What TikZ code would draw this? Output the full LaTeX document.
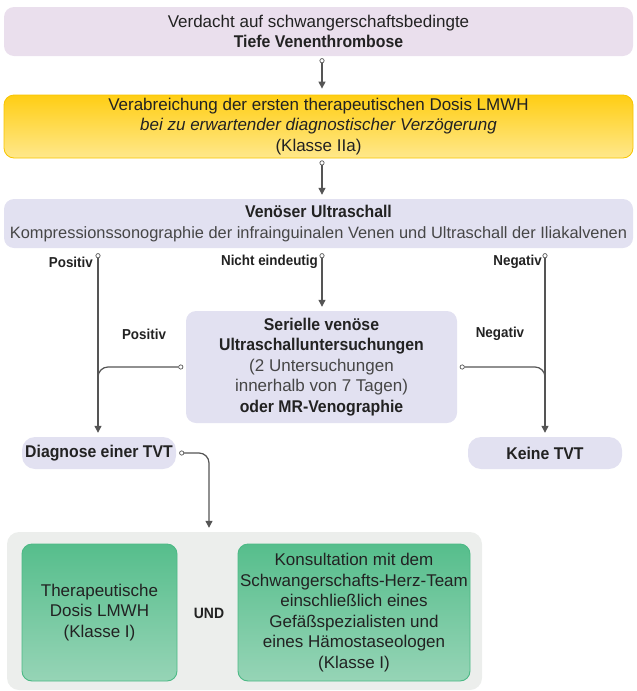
\documentclass[tikz,border=0pt]{standalone}
\usepackage{fontspec}
\setmainfont{Liberation Sans}[BoldFeatures={FakeStretch=0.93}]
\usetikzlibrary{arrows.meta,calc}

\definecolor{pinkbox}{RGB}{234,223,237}
\definecolor{lavbox}{RGB}{226,225,241}
\definecolor{yelTop}{RGB}{255,206,20}
\definecolor{yelBot}{RGB}{255,232,140}
\definecolor{yelLine}{RGB}{247,196,0}
\definecolor{greyPanel}{RGB}{236,238,236}
\definecolor{grnTop}{RGB}{86,190,140}
\definecolor{grnBot}{RGB}{150,212,182}
\definecolor{grnLine}{RGB}{76,185,133}
\definecolor{linkgray}{RGB}{85,85,85}
\definecolor{ink}{RGB}{34,34,34}
\definecolor{softink}{RGB}{70,70,70}

\tikzset{
  txt/.style={font=\fontsize{17}{20.5}\selectfont, text=ink, align=center, inner sep=0pt},
  card/.style={txt, rectangle, rounded corners=10pt},
  pinkcard/.style={card, fill=pinkbox},
  lavcard/.style={card, fill=lavbox},
  pill/.style={card, fill=lavbox, rounded corners=13pt},
  yelcard/.style={card, top color=yelTop, bottom color=yelBot, draw=yelLine, line width=0.8pt},
  grncard/.style={card, top color=grnTop, bottom color=grnBot, draw=grnLine, line width=0.9pt},
  panel/.style={rectangle, rounded corners=12pt, fill=greyPanel, inner sep=0pt},
  lbl/.style={font=\bfseries\fontsize{14.4}{17}\selectfont, text=ink, inner sep=0pt},
  conn/.style={draw=linkgray, line width=1.2pt,
    {Circle[open, length=5pt, line width=0.7pt, fill=white]}-{Triangle[length=7pt, width=7pt]},
    shorten <=2pt, shorten >=4pt},
  feed/.style={draw=linkgray, line width=1.2pt, rounded corners=10pt,
    {Circle[open, length=5pt, line width=0.7pt, fill=white]}-,
    shorten <=2.5pt},
}

\begin{document}
\begin{tikzpicture}[x=1pt, y=-1pt]
\useasboundingbox (0,0) rectangle (637,691);

% column positions of the vertical connectors
\coordinate (lx) at (98,0);
\coordinate (cx) at (322,0);
\coordinate (rx) at (545,0);

% main column
\node[pinkcard, minimum width=629pt, minimum height=49pt] (b1) at (318.5,31.5)
  {Verdacht auf schwangerschaftsbedingte\\\textbf{Tiefe Venenthrombose}};
\node[yelcard, minimum width=629pt, minimum height=63pt] (b2) at (318.5,126.5)
  {Verabreichung der ersten therapeutischen Dosis LMWH\\\textit{bei zu erwartender diagnostischer Verzögerung}\\(Klasse IIa)};
\node[lavcard, minimum width=629pt, minimum height=49pt] (b3) at (318.5,223.5)
  {\textbf{Venöser Ultraschall}\\{\color{softink}\fontsize{16.4}{20.5}\selectfont Kompressionssonographie der infrainguinalen Venen und Ultraschall der Iliakalvenen}};
\node[lavcard, minimum width=271pt, minimum height=112pt] (b4) at (321.5,367)
  {\textbf{Serielle venöse}\\\textbf{Ultraschalluntersuchungen}\\{\color{softink}(2 Untersuchungen}\\{\color{softink}innerhalb von 7 Tagen)}\\\textbf{oder MR-Venographie}};

% outcomes
\node[pill, minimum width=154pt, minimum height=32pt] (diag) at (99,453) {\textbf{Diagnose einer TVT}};
\node[pill, minimum width=154pt, minimum height=32pt] (keine) at (545,453) {\textbf{Keine TVT}};

% treatment panel
\node[panel, minimum width=475pt, minimum height=158pt] (grey) at (244.5,611) {};
\node[grncard, minimum width=155pt, minimum height=137pt] (g1) at (99.5,612.5)
  {Therapeutische\\Dosis LMWH\\(Klasse I)};
\node[txt, font=\bfseries\fontsize{15}{18}\selectfont] (und) at (209,613) {UND};
\node[grncard, minimum width=232pt, minimum height=137pt] (g2) at (354,612.5)
  {Konsultation mit dem\\Schwangerschafts-Herz-Team\\einschließlich eines\\Gefäßspezialisten und\\eines Hämostaseologen\\(Klasse I)};

% branch labels
\node[lbl, anchor=east] (lp1) at (93,262) {Positiv};
\node[lbl, anchor=east] (lc1) at (318,262) {Nicht eindeutig};
\node[lbl, anchor=east] (ln1) at (542,262) {Negativ};
\node[lbl] (lp2) at (144,334) {Positiv};
\node[lbl] (ln2) at (500,334) {Negativ};

% connectors
\draw[conn, shorten >=6pt] (b1.south -| cx) -- (b2.north -| cx);
\draw[conn] (b2.south -| cx) -- (b3.north -| cx);
\draw[conn, shorten <=5pt] (b3.south -| cx) -- (b4.north -| cx);
\draw[conn, shorten <=5pt] (b3.south -| lx) -- (diag.north -| lx);
\draw[conn, shorten <=5pt] (b3.south -| rx) -- (keine.north -| rx);
\draw[feed] (b4.west) -- (b4.west -| lx) -- ($(b4.west -| lx)+(0,25)$);
\draw[feed] (b4.east) -- (b4.east -| rx) -- ($(b4.east -| rx)+(0,25)$);
\draw[conn, rounded corners=10pt, shorten <=3pt] (diag.east) -- (diag.east -| und) -- (grey.north -| und);
\end{tikzpicture}
\end{document}
